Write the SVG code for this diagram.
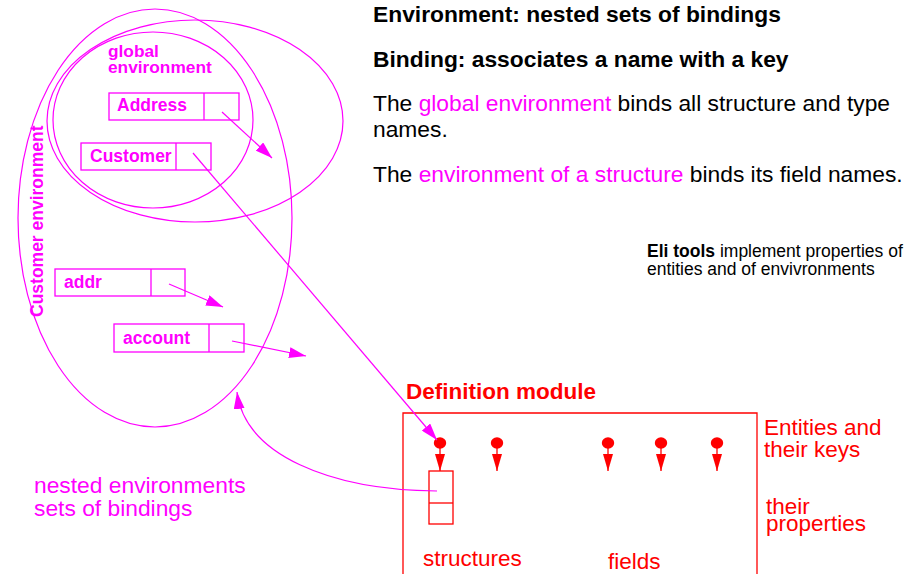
<svg xmlns="http://www.w3.org/2000/svg" width="915" height="574" viewBox="0 0 915 574">
  <style>
    text { font-family: "Liberation Sans", Arial, sans-serif; }
    .mag { fill: #ff00ff; }
    .red { fill: #ff0000; }
    .blk { fill: #000000; }
    .b { font-weight: bold; }
    .env { fill: none; stroke: #ff00ff; stroke-width: 1.2; }
    .bind { fill: none; stroke: #ff00ff; stroke-width: 1.3; }
    .link { fill: none; stroke: #ff00ff; stroke-width: 1.2; marker-end: url(#magArrow); }
    .key { fill: none; stroke: #ff0000; stroke-width: 1.3; marker-end: url(#redArrow); }
    .redbox { fill: none; stroke: #ff0000; stroke-width: 1.3; }
  </style>
  <defs>
    <marker id="magArrow" markerUnits="userSpaceOnUse" markerWidth="18" markerHeight="11" refX="17" refY="5.5" orient="auto">
      <path d="M0,0 L17,5.5 L0,11 z" fill="#ff00ff"/>
    </marker>
    <marker id="redArrow" markerUnits="userSpaceOnUse" markerWidth="18" markerHeight="10" refX="17" refY="5" orient="auto">
      <path d="M0,0 L17,5 L0,10 z" fill="#ff0000"/>
    </marker>
  </defs>

  <!-- environments -->
  <g id="customer-environment">
    <ellipse class="env" cx="155" cy="218" rx="137" ry="209"/>
    <text class="mag b" font-size="17.5" transform="translate(43,317) rotate(-90)">Customer environment</text>
  </g>
  <g id="structure-environment">
    <ellipse class="env" cx="195" cy="121" rx="148" ry="101"/>
  </g>
  <g id="global-environment">
    <ellipse class="env" cx="153" cy="120" rx="100" ry="88"/>
    <text class="mag b" font-size="17.3"><tspan x="108" y="57">global</tspan><tspan x="108" y="73">environment</tspan></text>
  </g>

  <!-- bindings -->
  <g id="binding-address">
    <rect class="bind" x="109" y="93" width="130" height="27"/>
    <line class="bind" x1="204" y1="93" x2="204" y2="120"/>
    <text class="mag b" font-size="17.5" x="117" y="111">Address</text>
  </g>
  <g id="binding-customer">
    <rect class="bind" x="81" y="143" width="130" height="27"/>
    <line class="bind" x1="176" y1="143" x2="176" y2="170"/>
    <text class="mag b" font-size="17.5" x="90" y="162">Customer</text>
  </g>
  <g id="binding-addr">
    <rect class="bind" x="55" y="269" width="130" height="27"/>
    <line class="bind" x1="151" y1="269" x2="151" y2="296"/>
    <text class="mag b" font-size="17.5" x="64" y="288">addr</text>
  </g>
  <g id="binding-account">
    <rect class="bind" x="114" y="324" width="130" height="28"/>
    <line class="bind" x1="209" y1="324" x2="209" y2="352"/>
    <text class="mag b" font-size="17.5" x="123" y="344">account</text>
  </g>

  <!-- definition module -->
  <g id="definition-module">
    <text class="red b" font-size="22.5" x="406" y="399">Definition module</text>
    <path class="redbox" d="M403,580 V413 H757 V580"/>
    <g id="entities" fill="#ff0000">
      <ellipse cx="440" cy="443" rx="6.2" ry="5.8"/>
      <ellipse cx="497" cy="443" rx="6.2" ry="5.8"/>
      <ellipse cx="608" cy="443" rx="6.2" ry="5.8"/>
      <ellipse cx="661" cy="443" rx="6.2" ry="5.8"/>
      <ellipse cx="717" cy="443" rx="6.2" ry="5.8"/>
    </g>
    <g id="keys">
      <line class="key" x1="440" y1="448" x2="440" y2="471"/>
      <line class="key" x1="497" y1="448" x2="497" y2="471"/>
      <line class="key" x1="608" y1="448" x2="608" y2="471"/>
      <line class="key" x1="661" y1="448" x2="661" y2="471"/>
      <line class="key" x1="717" y1="448" x2="717" y2="471"/>
    </g>
    <g id="structure-properties">
      <rect class="redbox" x="429" y="471" width="24" height="53"/>
      <line class="redbox" x1="429" y1="503" x2="453" y2="503"/>
    </g>
    <text class="red" font-size="22.5" x="423" y="566">structures</text>
    <text class="red" font-size="22.5" x="608" y="569">fields</text>
  </g>

  <!-- connectors -->
  <g id="connectors">
    <line class="link" x1="222" y1="112" x2="272" y2="158"/>
    <line class="link" x1="193" y1="153" x2="437" y2="440"/>
    <line class="link" x1="169" y1="284" x2="223" y2="307"/>
    <line class="link" x1="232" y1="341" x2="306" y2="356"/>
    <path class="link" d="M437,491 C330,490 245,455 237,392"/>
  </g>

  <!-- annotations -->
  <g id="side-labels">
    <text class="red" font-size="22.5"><tspan x="764" y="435">Entities and</tspan><tspan x="764" y="457">their keys</tspan></text>
    <text class="red" font-size="22.5"><tspan x="766" y="514">their</tspan><tspan x="766" y="531">properties</tspan></text>
    <text class="mag" font-size="22.8"><tspan x="34" y="493">nested environments</tspan><tspan x="34" y="516">sets of bindings</tspan></text>
  </g>

  <g id="notes">
    <text class="blk b" font-size="22.8" x="373" y="22">Environment: nested sets of bindings</text>
    <text class="blk b" font-size="22.8" x="373" y="67">Binding: associates a name with a key</text>
    <text class="blk" font-size="22.8" x="373" y="111">The <tspan class="mag">global environment</tspan> binds all structure and type</text>
    <text class="blk" font-size="22.8" x="373" y="137">names.</text>
    <text class="blk" font-size="22.8" x="373" y="182">The <tspan class="mag">environment of a structure</tspan> binds its field names.</text>
    <text class="blk" font-size="17.5"><tspan x="647" y="257"><tspan class="b">Eli tools</tspan> implement properties of</tspan><tspan x="647" y="275">entities and of envivronments</tspan></text>
  </g>
</svg>
